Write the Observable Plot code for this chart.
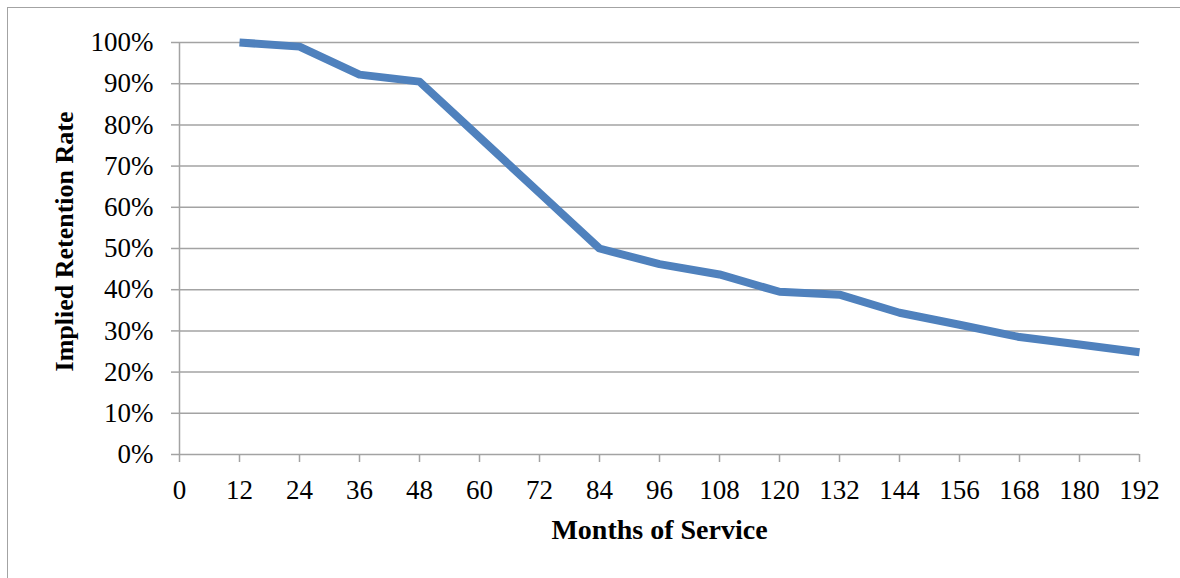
<!DOCTYPE html>
<html>
<head>
<meta charset="utf-8">
<script src="https://cdn.jsdelivr.net/npm/d3@7"></script>
<script src="https://cdn.jsdelivr.net/npm/@observablehq/plot@0.6"></script>
<style>
  html, body { margin: 0; padding: 0; background: #fff; overflow: hidden; }
  #frame { position: absolute; left: 7px; top: 7px; width: 1240px; height: 640px; border: 1.5px solid #a3a3a3; box-sizing: border-box; }
  #chart { position: absolute; left: 0; top: 0; }
</style>
</head>
<body>
<div id="frame"></div>
<div id="chart"></div>
<script>
const months = [12, 24, 36, 48, 60, 72, 84, 96, 108, 120, 132, 144, 156, 168, 180, 192];
const retention = [1.00, 0.99, 0.922, 0.905, 0.770, 0.635, 0.500, 0.462, 0.437, 0.395, 0.388, 0.344, 0.315, 0.285, 0.267, 0.248];
const xTicks = [0, 12, 24, 36, 48, 60, 72, 84, 96, 108, 120, 132, 144, 156, 168, 180, 192];
const yTicks = [0, 0.1, 0.2, 0.3, 0.4, 0.5, 0.6, 0.7, 0.8, 0.9, 1.0];
const xTitle = "Months of Service";
const yTitle = "Implied Retention Rate";

const data = months.map((m, i) => ({month: m, rate: retention[i]}));
const gridColor = "#a3a3a3";
const font = "'Liberation Serif', 'Times New Roman', serif";

const chart = Plot.plot({
  width: 1180,
  height: 578,
  marginLeft: 179,
  marginRight: 41,
  marginTop: 42,
  marginBottom: 124,
  style: {fontFamily: font, background: "transparent", color: "#000"},
  x: {domain: [0, 192]},
  y: {domain: [0, 1]},
  marks: [
    Plot.ruleY(yTicks, {x1: 0, x2: 192, stroke: gridColor, strokeWidth: 1.5}),
    Plot.ruleX([0], {y1: 0, y2: 1, stroke: gridColor, strokeWidth: 1.5}),
    Plot.axisY({ticks: yTicks, tickSize: 8, tickPadding: 18, stroke: gridColor, strokeWidth: 1.5, strokeOpacity: 1,
      tickFormat: d => Math.round(d * 100) + "%", fontSize: 27, fill: "#000", label: null}),
    Plot.axisX({ticks: xTicks, tickSize: 8, tickPadding: 17, stroke: gridColor, strokeWidth: 1.5, strokeOpacity: 1,
      tickFormat: d => String(d), fontSize: 27, fill: "#000", label: null}),
    Plot.line(data, {x: "month", y: "rate", stroke: "#4f81bd", strokeWidth: 8, strokeLinecap: "butt", strokeLinejoin: "round"}),
    Plot.text([xTitle], {frameAnchor: "bottom", dy: 76, lineAnchor: "middle", textAnchor: "middle", fontSize: 28, fontWeight: "bold", fill: "#000"}),
    Plot.text([yTitle], {frameAnchor: "left", dx: -115, dy: -7, rotate: -90, lineAnchor: "middle", textAnchor: "middle", fontSize: 26, fontWeight: "bold", fill: "#000"})
  ]
});
document.getElementById("chart").appendChild(chart);
</script>
</body>
</html>
